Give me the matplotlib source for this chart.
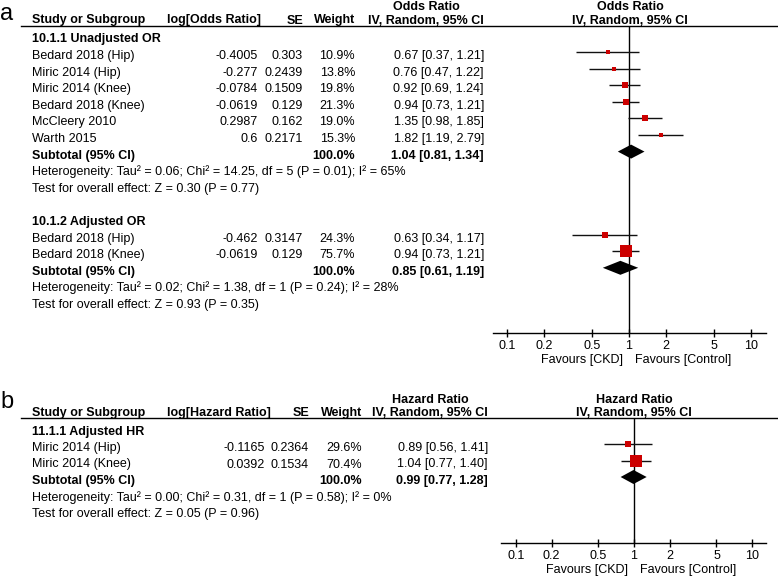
import matplotlib
matplotlib.use('Agg')
import matplotlib.pyplot as plt
from matplotlib.ticker import NullLocator

plt.rcParams['font.family'] = ['Liberation Sans', 'DejaVu Sans']

# ---------------- data ----------------
tick_vals = [0.1, 0.2, 0.5, 1, 2, 5, 10]
tick_labels = ['0.1', '0.2', '0.5', '1', '2', '5', '10']

# Panel a, subgroup 10.1.1
a1_title = "10.1.1 Unadjusted OR"
a1_studies = ["Bedard 2018 (Hip)", "Miric 2014 (Hip)", "Miric 2014 (Knee)",
              "Bedard 2018 (Knee)", "McCleery 2010", "Warth 2015"]
a1_log = [-0.4005, -0.277, -0.0784, -0.0619, 0.2987, 0.6]
a1_se = [0.303, 0.2439, 0.1509, 0.129, 0.162, 0.2171]
a1_w = [10.9, 13.8, 19.8, 21.3, 19.0, 15.3]
a1_est = [0.67, 0.76, 0.92, 0.94, 1.35, 1.82]
a1_lo = [0.37, 0.47, 0.69, 0.73, 0.98, 1.19]
a1_hi = [1.21, 1.22, 1.24, 1.21, 1.85, 2.79]
a1_sub = [100.0, 1.04, 0.81, 1.34]
a1_het = "Heterogeneity: Tau² = 0.06; Chi² = 14.25, df = 5 (P = 0.01); I² = 65%"
a1_test = "Test for overall effect: Z = 0.30 (P = 0.77)"

# Panel a, subgroup 10.1.2
a2_title = "10.1.2 Adjusted OR"
a2_studies = ["Bedard 2018 (Hip)", "Bedard 2018 (Knee)"]
a2_log = [-0.462, -0.0619]
a2_se = [0.3147, 0.129]
a2_w = [24.3, 75.7]
a2_est = [0.63, 0.94]
a2_lo = [0.34, 0.73]
a2_hi = [1.17, 1.21]
a2_sub = [100.0, 0.85, 0.61, 1.19]
a2_het = "Heterogeneity: Tau² = 0.02; Chi² = 1.38, df = 1 (P = 0.24); I² = 28%"
a2_test = "Test for overall effect: Z = 0.93 (P = 0.35)"

# Panel b, subgroup 11.1.1
b1_title = "11.1.1 Adjusted HR"
b1_studies = ["Miric 2014 (Hip)", "Miric 2014 (Knee)"]
b1_log = [-0.1165, 0.0392]
b1_se = [0.2364, 0.1534]
b1_w = [29.6, 70.4]
b1_est = [0.89, 1.04]
b1_lo = [0.56, 0.77]
b1_hi = [1.41, 1.40]
b1_sub = [100.0, 0.99, 0.77, 1.28]
b1_het = "Heterogeneity: Tau² = 0.00; Chi² = 0.31, df = 1 (P = 0.58); I² = 0%"
b1_test = "Test for overall effect: Z = 0.05 (P = 0.96)"

favours = ["Favours [CKD]", "Favours [Control]"]

# ---------------- drawing ----------------
W, H = 778, 577
FS = 9
RED = '#CC0000'

fig = plt.figure(figsize=(W / 100, H / 100), dpi=100)
ov = fig.add_axes([0, 0, 1, 1])
ov.set_xlim(0, W)
ov.set_ylim(H, 0)
ov.axis('off')


def T(x, y, s, ha='left', bold=False, size=FS):
    ov.text(x, y + 4.5, s, ha=ha, va='baseline', fontsize=size,
            fontweight='bold' if bold else 'normal', color='black')


def forest_axes(px_left, px_right, px_top, px_bottom, px_one, px_dec):
    xmin = 10 ** ((px_left - px_one) / px_dec)
    xmax = 10 ** ((px_right - px_one) / px_dec)
    ax = fig.add_axes([px_left / W, 1 - px_bottom / H,
                       (px_right - px_left) / W, (px_bottom - px_top) / H])
    ax.set_xscale('log')
    ax.set_xlim(xmin, xmax)
    ax.set_ylim(px_bottom, px_top)
    ax.patch.set_visible(False)
    for s in ['top', 'left', 'right']:
        ax.spines[s].set_visible(False)
    ax.spines['bottom'].set_linewidth(1.0)
    ax.set_yticks([])
    ax.set_xticks(tick_vals)
    ax.set_xticklabels(tick_labels)
    ax.xaxis.set_minor_locator(NullLocator())
    ax.tick_params(axis='x', direction='inout', length=6, width=1.0,
                   labelsize=FS, pad=2)
    ax.axvline(1, color='black', lw=1.0, zorder=1)
    return ax


def header(cols, ytop, measure, center_plot):
    T(cols['ci'] - 58, ytop, measure, ha='center', bold=True)
    T(center_plot, ytop, measure, ha='center', bold=True)
    yh = ytop + 13
    T(cols['study'], yh, "Study or Subgroup", bold=True)
    T(cols['loghdr'], yh, "log[" + measure + "]", bold=True)
    T(cols['se'], yh, "SE", ha='right', bold=True)
    T(cols['w'], yh, "Weight", ha='right', bold=True)
    T(cols['ci'], yh, "IV, Random, 95% CI", ha='right', bold=True)
    T(center_plot, yh, "IV, Random, 95% CI", ha='center', bold=True)
    ov.plot([21, W], [yh + 6.5, yh + 6.5], color='black', lw=1.0)


def subgroup(ax, cols, y0, dy, title, studies, logv, se, w, est, lo, hi, sub, het, test):
    off = 2.5
    T(cols['study'], y0 - dy + off, title, bold=True)
    for i, name in enumerate(studies):
        y = y0 + i * dy
        T(cols['study'], y + off, name)
        T(cols['log'], y + off, str(logv[i]), ha='right')
        T(cols['se'], y + off, str(se[i]), ha='right')
        T(cols['w'], y + off, f"{w[i]:.1f}%", ha='right')
        T(cols['ci'], y + off, f"{est[i]:.2f} [{lo[i]:.2f}, {hi[i]:.2f}]", ha='right')
        side_px = 3.0 + 0.13 * w[i]
        ax.hlines(y, lo[i], hi[i], color='#111111', lw=1.0, zorder=2)
        ax.plot([est[i]], [y], marker='s', ms=side_px * 0.72, color=RED,
                mew=0, ls='none', zorder=3)
    ys = y0 + len(studies) * dy
    T(cols['study'], ys + off, "Subtotal (95% CI)", bold=True)
    T(cols['w'], ys + off, f"{sub[0]:.1f}%", ha='right', bold=True)
    T(cols['ci'], ys + off, f"{sub[1]:.2f} [{sub[2]:.2f}, {sub[3]:.2f}]", ha='right', bold=True)
    ax.fill([sub[2], sub[1], sub[3], sub[1]], [ys, ys - 7, ys, ys + 7],
            color='black', lw=0, zorder=3)
    T(cols['study'], ys + dy + off, het)
    T(cols['study'], ys + 2 * dy + off, test)


# ----- panel a -----
cols_a = dict(study=32, loghdr=167, log=258, se=303, w=355, ci=484)
ov.text(0, 14 + 6, "a", fontsize=17, ha='left', va='baseline')
header(cols_a, 6, "Odds Ratio", 630)
ax_a = forest_axes(493, 766, 25.5, 333, 629, 122)
dy = 16.6
subgroup(ax_a, cols_a, 52, dy, a1_title, a1_studies, a1_log, a1_se, a1_w,
         a1_est, a1_lo, a1_hi, a1_sub, a1_het, a1_test)
subgroup(ax_a, cols_a, 52 + 11 * dy, dy, a2_title, a2_studies, a2_log, a2_se, a2_w,
         a2_est, a2_lo, a2_hi, a2_sub, a2_het, a2_test)
T(623, 359, favours[0], ha='right')
T(635, 359, favours[1], ha='left')

# ----- panel b -----
cols_b = dict(study=32, loghdr=167, log=265, se=309, w=362, ci=488)
ov.text(0, 402 + 6, "b", fontsize=17, ha='left', va='baseline')
header(cols_b, 398.5, "Hazard Ratio", 634)
ax_b = forest_axes(501, 766, 418, 543, 634, 118)
subgroup(ax_b, cols_b, 444, 16.5, b1_title, b1_studies, b1_log, b1_se, b1_w,
         b1_est, b1_lo, b1_hi, b1_sub, b1_het, b1_test)
T(628, 569, favours[0], ha='right')
T(640, 569, favours[1], ha='left')

fig.savefig('out.png', dpi=100)
